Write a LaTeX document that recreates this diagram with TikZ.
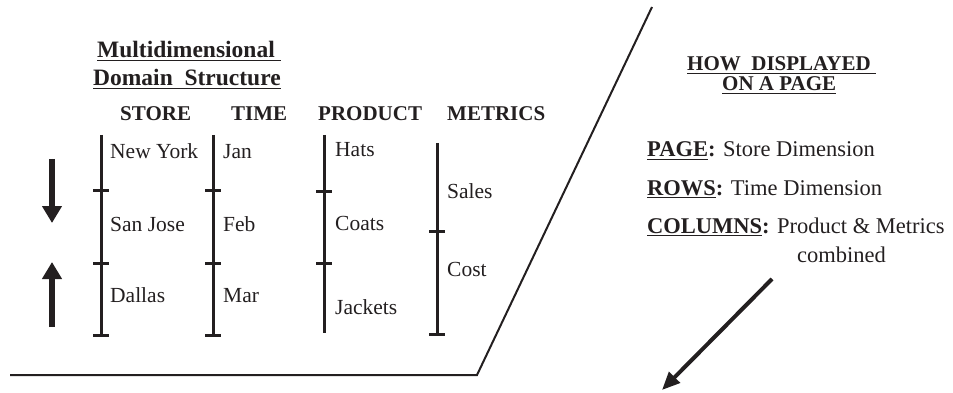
\documentclass[tikz,border=0pt]{standalone}
\usepackage{fontspec}
\setmainfont{Liberation Serif}
\usetikzlibrary{arrows.meta}
\newcommand\ulx[1]{\setbox0\hbox{#1}\rlap{\raisebox{-3.2pt}{\rule{\wd0}{1.4pt}}}\box0}
\definecolor{ink}{RGB}{35,31,32}
\begin{document}
\begin{tikzpicture}[x=1pt,y=-1pt,
  txt/.style={inner sep=0pt,anchor=base west,text=ink,font=\fontsize{21.5}{25}\selectfont},
  hdr/.style={inner sep=0pt,anchor=base west,text=ink,font=\fontsize{21}{25}\selectfont\bfseries},
  ttl/.style={inner sep=0pt,anchor=base west,text=ink,font=\fontsize{23.5}{27}\selectfont\bfseries},
  rtxt/.style={inner sep=0pt,anchor=base west,text=ink,font=\fontsize{22.5}{26}\selectfont},
  bar/.style={line width=3pt,draw=ink},
  frame/.style={line width=2pt,draw=ink},
  bigarrow/.style={line width=6pt,draw=ink,fill=ink,-{Triangle[length=17pt,width=19pt]}},
  diagarrow/.style={line width=4pt,draw=ink,fill=ink,-{Triangle[length=18pt,width=15pt]}}]
\useasboundingbox (0,0) rectangle (953,393);

% titles
\node[ttl] (t1) at (97,58) {\ulx{Multidimensional\ }};
\node[ttl] (t2) at (93,86) {\ulx{Domain\ \ Structure}};

% column headers
\node[hdr] (hstore) at (120,121) {STORE};
\node[hdr] (htime) at (231,121) {TIME};
\node[hdr] (hprod) at (318,121) {PRODUCT};
\node[hdr] (hmet) at (447,121) {METRICS};

% store axis
\draw[bar] (101,135) -- (101,335);
\foreach \yy in {190,263,335} \draw[bar] (93,\yy) -- (109,\yy);
\node[txt] (ny) at (110,158) {New York};
\node[txt] (sj) at (110,231) {San Jose};
\node[txt] (da) at (110,302) {Dallas};

% time axis
\draw[bar] (213,135) -- (213,335);
\foreach \yy in {190,263,335} \draw[bar] (205,\yy) -- (221,\yy);
\node[txt] (jan) at (223,158) {Jan};
\node[txt] (feb) at (223,231) {Feb};
\node[txt] (mar) at (223,302) {Mar};

% product axis
\draw[bar] (324,135) -- (324,333);
\foreach \yy in {191,263} \draw[bar] (316,\yy) -- (332,\yy);
\node[txt] (hats) at (335,157) {Hats};
\node[txt] (coats) at (335,230) {Coats};
\node[txt] (jack) at (335,314) {Jackets};

% metrics axis
\draw[bar] (437,143) -- (437,334);
\foreach \yy in {231,334} \draw[bar] (429,\yy) -- (445,\yy);
\node[txt] (sales) at (447,198) {Sales};
\node[txt] (cost) at (447,276) {Cost};

% up/down arrows
\coordinate (dnA) at (52,159);
\coordinate (dnB) at (52,223);
\coordinate (upA) at (52,327);
\coordinate (upB) at (52,262);
\draw[bigarrow] (dnA) -- (dnB);
\draw[bigarrow] (upA) -- (upB);

% frame lines
\coordinate (fTop) at (652,7);
\coordinate (fCorner) at (477,375);
\coordinate (fLeft) at (10,375);
\draw[frame] (fTop) -- (fCorner) -- (fLeft);

% right side
\node[hdr] (how) at (687,71) {\ulx{HOW\ \ DISPLAYED\ }};
\node[hdr] (onap) at (722,91) {\ulx{ON A PAGE}};
\node[rtxt] (page) at (647,157) {\ulx{\bfseries PAGE}\textbf{:} Store Dimension};
\node[rtxt] (rows) at (647,195) {\ulx{\bfseries ROWS}\textbf{:} Time Dimension};
\node[rtxt] (cols) at (647,233) {\ulx{\bfseries COLUMNS}\textbf{:} Product \& Metrics};
\node[rtxt] (comb) at (797,262) {combined};

\coordinate (aS) at (772,279);
\coordinate (aE) at (662,390);
\draw[diagarrow] (aS) -- (aE);
\end{tikzpicture}
\end{document}
